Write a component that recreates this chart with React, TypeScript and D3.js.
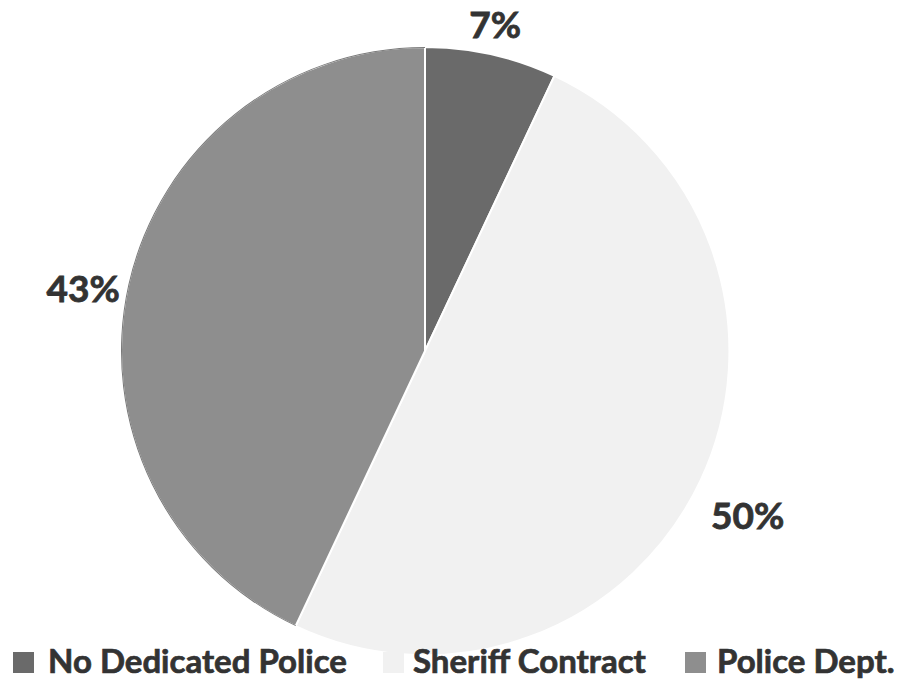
import React from "react";
import * as d3 from "d3";

const categories = ["No Dedicated Police", "Sheriff Contract", "Police Dept."];
const values = [7, 50, 43];
const labels = ["7%", "50%", "43%"];
const colors = ["#6a6a6a", "#f1f1f1", "#8e8e8e"];

const W = 915;
const H = 686;
const CX = 425;
const CY = 351;
const R = 304;
const LABEL_R = 340;
const labelNudge: [number, number][] = [
  [-4, 4],
  [15, 19],
  [-10, 11],
];
const legendSquareX = [13, 383, 685];
const legendTextX = [48, 413, 717];

export default function App() {
  const pie = d3
    .pie<number>()
    .sort(null)
    .value((d) => d)
    .startAngle(0)
    .endAngle(2 * Math.PI);
  const arcs = pie(values);
  const arcGen = d3
    .arc<d3.PieArcDatum<number>>()
    .innerRadius(0)
    .outerRadius(R);
  const outline = d3
    .arc<d3.PieArcDatum<number>>()
    .innerRadius(R - 1)
    .outerRadius(R);

  return (
    <svg
      width={W}
      height={H}
      style={{ position: "absolute", left: 0, top: 0, background: "#fff" }}
    >
      <rect x={0} y={0} width={W} height={H} fill="#fff" />
      <g transform={`translate(${CX},${CY})`}>
        {arcs.map((a, i) => (
          <path
            key={i}
            d={arcGen(a) || ""}
            fill={colors[i]}
            stroke="#ffffff"
            strokeWidth={2}
          />
        ))}
        <path d={outline(arcs[2]) || ""} fill="#7a7a7a" />
      </g>
      {arcs.map((a, i) => {
        const mid = (a.startAngle + a.endAngle) / 2;
        const x = CX + LABEL_R * Math.sin(mid) + labelNudge[i][0];
        const y = CY - LABEL_R * Math.cos(mid) + labelNudge[i][1];
        return (
          <text
            key={i}
            x={x}
            y={y}
            textAnchor="middle"
            dominantBaseline="central"
            fontFamily="Lato, 'Open Sans', sans-serif"
            fontWeight={700}
            fontSize={37}
            fill="#333"
            stroke="#333"
            strokeWidth={0.8}
          >
            {labels[i]}
          </text>
        );
      })}
      {categories.map((c, i) => (
        <g key={c}>
          <rect
            x={legendSquareX[i]}
            y={652}
            width={21}
            height={21}
            fill={colors[i]}
          />
          <text
            x={legendTextX[i]}
            y={673}
            fontFamily="Lato, 'Open Sans', sans-serif"
            fontWeight={700}
            fontSize={33}
            fill="#333"
            stroke="#333"
            strokeWidth={0.7}
          >
            {c}
          </text>
        </g>
      ))}
    </svg>
  );
}
